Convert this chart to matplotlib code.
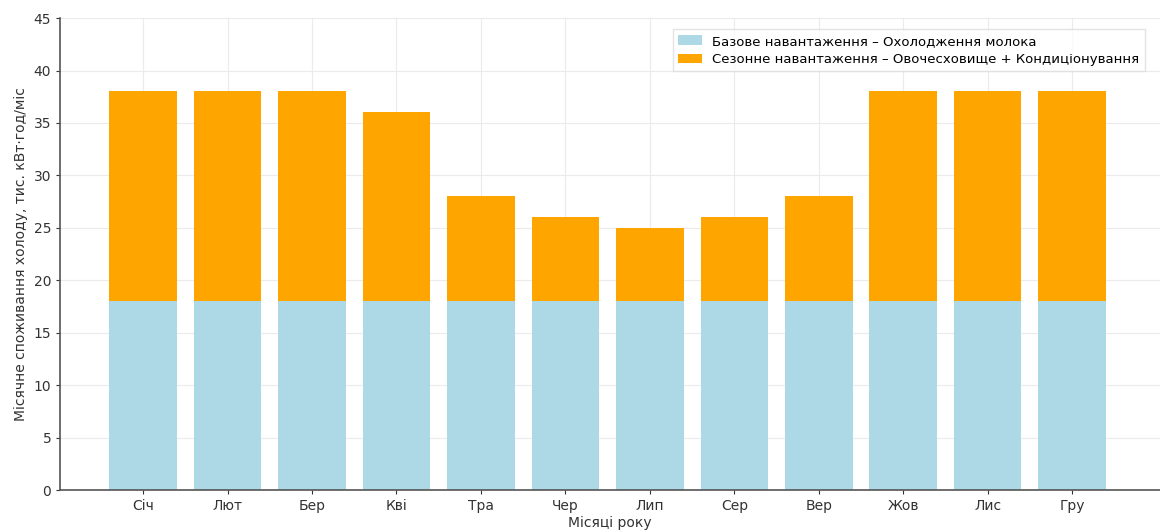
import numpy as np
import matplotlib
matplotlib.use('Agg')
import matplotlib.pyplot as plt

plt.rcParams['font.family'] = ['DejaVu Sans']

months = ['Січ', 'Лют', 'Бер', 'Кві', 'Тра', 'Чер', 'Лип', 'Сер', 'Вер', 'Жов', 'Лис', 'Гру']
base = [18, 18, 18, 18, 18, 18, 18, 18, 18, 18, 18, 18]
seasonal = [20, 20, 20, 18, 10, 8, 7, 8, 10, 20, 20, 20]

fig = plt.figure(figsize=(11.6, 5.31), dpi=100)
ax = fig.add_axes([0.052, 0.077, 0.948, 0.889])
x = np.arange(len(months))
ax.bar(x, base, width=0.8, color='#add8e6', label='Базове навантаження – Охолодження молока', zorder=2)
ax.bar(x, seasonal, width=0.8, bottom=base, color='#ffa500',
       label='Сезонне навантаження – Овочесховище + Кондиціонування', zorder=2)

ax.set_xticks(x)
ax.set_xticklabels(months)
ax.set_xlim(-0.98, 12.04)
ax.set_ylim(0, 45)
ax.set_yticks(range(0, 46, 5))
ax.set_xlabel('Місяці року', fontsize=10, color='#333333', labelpad=2)
ax.set_ylabel('Місячне споживання холоду, тис. кВт·год/міс', fontsize=10, color='#333333')
ax.grid(True, color='#ebebeb', lw=0.8, zorder=0)
for s in ['top', 'right']:
    ax.spines[s].set_visible(False)
for s in ['left', 'bottom']:
    ax.spines[s].set_color('#555555')
    ax.spines[s].set_linewidth(1.2)
ax.tick_params(axis='both', labelsize=10, colors='#333333', length=3)
ax.legend(loc='upper right', bbox_to_anchor=(0.992, 0.99), fontsize=9.5, frameon=True,
          edgecolor='#dddddd', fancybox=False, labelspacing=0.4, handlelength=1.8)
fig.savefig('out.png', dpi=100)
